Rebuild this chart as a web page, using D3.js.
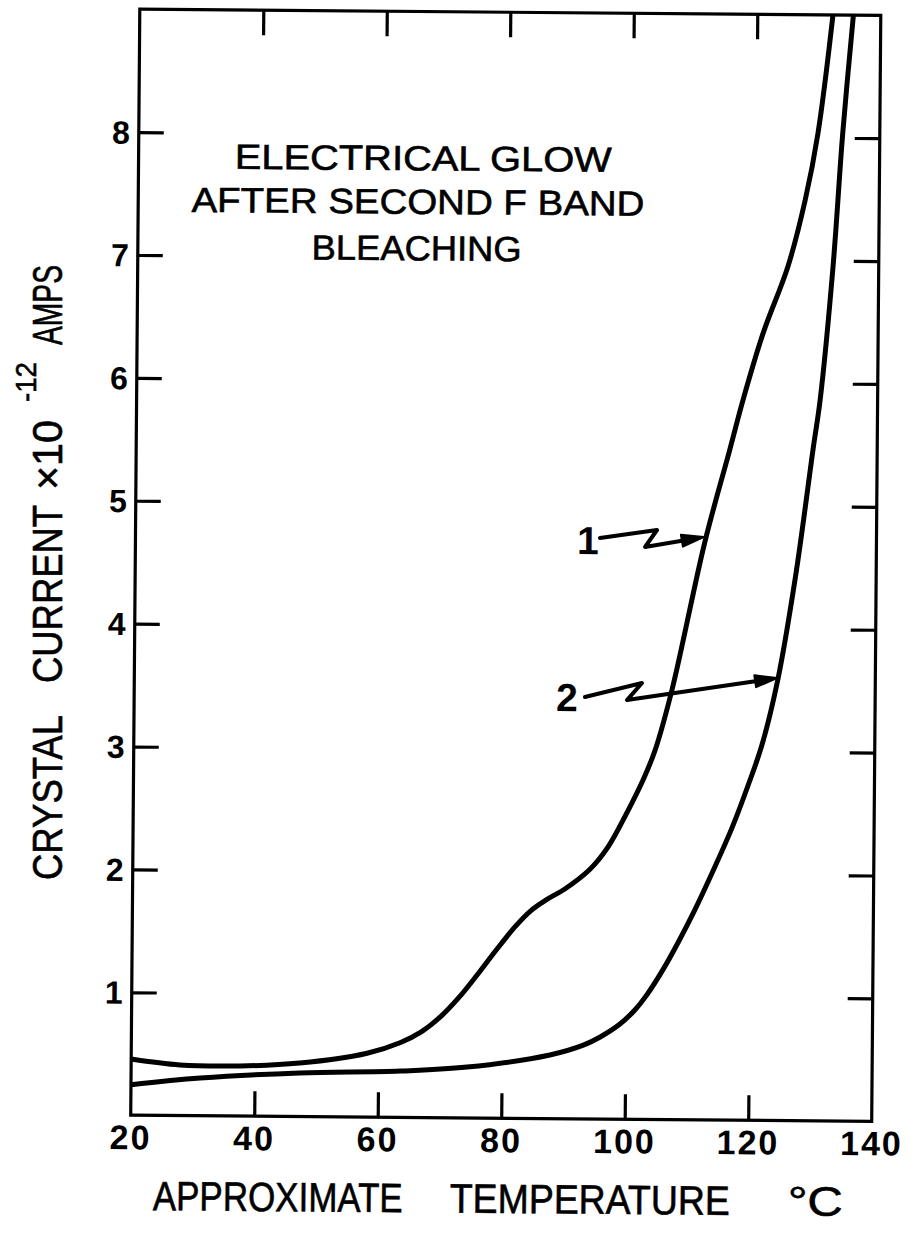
<!DOCTYPE html>
<html><head><meta charset="utf-8">
<script src="https://cdn.jsdelivr.net/npm/d3@7"></script>
<style>body{margin:0;background:#fff}svg{display:block}</style>
</head><body>
<svg id="c" width="911" height="1248"></svg>
<script>
// ---- data ----
const temp1 = [20, 27.9, 37.6, 47.3, 58.2, 63.6, 67, 70, 73, 76, 79, 82, 84.5, 87, 90, 94, 97, 100, 102.5, 104.4, 107.1, 112.2, 116.1, 118.2, 121.4, 125.3, 128.0, 130.0, 132.3];
const current1 = [0.457, 0.412, 0.408, 0.436, 0.52, 0.61, 0.7, 0.82, 0.98, 1.17, 1.37, 1.56, 1.69, 1.78, 1.87, 2.03, 2.22, 2.5, 2.76, 3.0, 3.5, 4.7, 5.45, 5.86, 6.41, 6.95, 7.49, 8.04, 9.02];
const temp2 = [20, 31.2, 47.3, 63.6, 74.4, 87.8, 93.2, 96, 99, 101.5, 103.5, 106, 108.5, 111, 114, 117, 119.5, 121.7, 124.2, 127, 129.6, 130.7, 132.6, 134.0, 135.6];
const current2 = [0.248, 0.307, 0.355, 0.377, 0.414, 0.518, 0.60, 0.67, 0.77, 0.89, 1.02, 1.22, 1.45, 1.7, 2.03, 2.38, 2.72, 3.05, 3.585, 4.45, 5.46, 5.87, 6.95, 8.04, 9.02];
const xTickValues = [20, 40, 60, 80, 100, 120, 140];
const xTickLabels = ["20", "40", "60", "80", "100", "120", "140"];
const yTickValues = [1, 2, 3, 4, 5, 6, 7, 8];
const yTickLabels = ["1", "2", "3", "4", "5", "6", "7", "8"];
const seriesLabels = ["1", "2"];
// arrow paths (temperature, current): label anchor, zigzag, tip
const arrow1T = [95.22, 104.45, 102.53, 112.0];
const arrow1C = [4.728, 4.797, 4.658, 4.743];
const arrow2T = [93.0, 102.22, 99.81, 124.07];
const arrow2C = [3.433, 3.551, 3.411, 3.600];
const label1 = [93.3, 4.71];
const label2 = [90.1, 3.432];
const titleLines = ["ELECTRICAL  GLOW", "AFTER  SECOND F BAND", "BLEACHING"];
const xTitleParts = ["APPROXIMATE", "TEMPERATURE", "°C"];
const yTitleParts = ["CRYSTAL", "CURRENT", "×10", "-12", "AMPS"];

// ---- layout ----
const L = 135.25, R = 876.25, T = 12.25, B = 1118.25;
const svg = d3.select("#c");
svg.append("rect").attr("width", 911).attr("height", 1248).attr("fill", "#fff");
const g = svg.append("g").attr("transform", "rotate(0.47,505.75,565.25)");

const x = d3.scaleLinear().domain([20, 140]).range([L, R]);
const y = d3.scaleLinear().domain([0, 9]).range([B, T]);

const FONT = "'Liberation Sans', Arial, sans-serif";

// clip
svg.append("defs").append("clipPath").attr("id", "clip")
  .append("rect").attr("x", L).attr("y", T).attr("width", R - L).attr("height", B - T);

// inner ticks via axes
const tickLen = 25;
const axB = g.append("g").attr("transform", `translate(0,${B})`)
  .call(d3.axisTop(x).tickValues(xTickValues.slice(1, -1)).tickSize(tickLen).tickFormat(""));
const axT = g.append("g").attr("transform", `translate(0,${T})`)
  .call(d3.axisBottom(x).tickValues(xTickValues.slice(1, -1)).tickSize(tickLen).tickFormat(""));
const axL = g.append("g").attr("transform", `translate(${L},0)`)
  .call(d3.axisRight(y).tickValues(yTickValues).tickSize(tickLen).tickFormat(""));
const axR = g.append("g").attr("transform", `translate(${R},0)`)
  .call(d3.axisLeft(y).tickValues(yTickValues).tickSize(tickLen).tickFormat(""));
[axB, axT, axL, axR].forEach(a => {
  a.select(".domain").remove();
  a.selectAll("line").attr("stroke", "#000").attr("stroke-width", 3.2);
});

// frame
g.append("rect").attr("x", L).attr("y", T).attr("width", R - L).attr("height", B - T)
  .attr("fill", "none").attr("stroke", "#000").attr("stroke-width", 3.2);

// tick labels
g.append("g").selectAll("text").data(xTickValues).join("text")
  .attr("x", d => x(d)).attr("y", B + 34)
  .attr("text-anchor", "middle")
  .attr("font-family", FONT).attr("font-weight", "bold").attr("font-size", 34)
  .attr("letter-spacing", 2)
  .text((d, i) => xTickLabels[i]);
g.append("g").selectAll("text").data(yTickValues).join("text")
  .attr("x", L - 9).attr("y", d => y(d) + 11.5)
  .attr("text-anchor", "end")
  .attr("font-family", FONT).attr("font-weight", "bold").attr("font-size", 32)
  .text((d, i) => yTickLabels[i]);

// curves
const line = d3.line().x(d => x(d[0])).y(d => y(d[1])).curve(d3.curveCatmullRom.alpha(0.5));
const cg = g.append("g").attr("clip-path", "url(#clip)");
[[temp1, current1], [temp2, current2]].forEach(([t, c]) => {
  cg.append("path").datum(t.map((v, i) => [v, c[i]]))
    .attr("d", line).attr("fill", "none").attr("stroke", "#000")
    .attr("stroke-width", 5).attr("stroke-linejoin", "round").attr("stroke-linecap", "round");
});

// arrows
function arrow(ts, cs) {
  const pts = ts.map((v, i) => [x(v), y(cs[i])]);
  const tip = pts[pts.length - 1], prev = pts[pts.length - 2];
  const dx = tip[0] - prev[0], dy = tip[1] - prev[1], len = Math.hypot(dx, dy);
  const ux = dx / len, uy = dy / len, hl = 22, hw = 6;
  const base = [tip[0] - ux * hl, tip[1] - uy * hl];
  const linePts = pts.slice(0, -1).concat([base]);
  g.append("path").attr("d", d3.line()(linePts)).attr("fill", "none").attr("stroke", "#000")
    .attr("stroke-width", 4).attr("stroke-linejoin", "round").attr("stroke-linecap", "round");
  g.append("path").attr("d", d3.line()([tip, [base[0] - uy * hw, base[1] + ux * hw], [base[0] + uy * hw, base[1] - ux * hw]]) + "Z")
    .attr("fill", "#000").attr("stroke", "#000").attr("stroke-width", 2).attr("stroke-linejoin", "round");
}
arrow(arrow1T, arrow1C);
arrow(arrow2T, arrow2C);
[label1, label2].forEach((p, i) => {
  g.append("text").attr("x", x(p[0])).attr("y", y(p[1]) + 14)
    .attr("text-anchor", "middle").attr("font-family", FONT).attr("font-size", 39)
    .attr("font-weight", "bold").text(seriesLabels[i]);
});

// title
const titleX = [420, 415, 414], titleY = [171, 214.5, 261], titleW = [377, 453, 210];
titleLines.forEach((s, i) => {
  g.append("text").attr("x", titleX[i] - titleW[i] / 2).attr("y", titleY[i])
    .attr("font-family", FONT).attr("font-size", 35)
    .attr("textLength", titleW[i]).attr("lengthAdjust", "spacingAndGlyphs")
    .attr("stroke", "#000").attr("stroke-width", 0.6)
    .text(s);
});

// x title
const xtX = [158, 455, 793], xtW = [250, 280, 55];
xTitleParts.forEach((s, i) => {
  g.append("text").attr("x", xtX[i]).attr("y", 1213)
    .attr("font-family", FONT).attr("font-size", 41)
    .attr("textLength", xtW[i]).attr("lengthAdjust", "spacingAndGlyphs")
    .attr("stroke", "#000").attr("stroke-width", 0.6)
    .text(s);
});

// y title (rotated)
const yg = svg.append("g");
const ytStart = [880, 683, 490, 402, 345], ytW = [165, 178, 70, 40, 80], ytBase = [62, 62, 62, 36, 62], ytSize = [42, 42, 42, 30, 42];
yTitleParts.forEach((s, i) => {
  yg.append("text")
    .attr("transform", `translate(${ytBase[i]},${ytStart[i]}) rotate(-90)`)
    .attr("font-family", FONT).attr("font-size", ytSize[i])
    .attr("textLength", ytW[i]).attr("lengthAdjust", "spacingAndGlyphs")
    .attr("stroke", "#000").attr("stroke-width", 0.6)
    .text(s);
});
</script>
</body></html>
